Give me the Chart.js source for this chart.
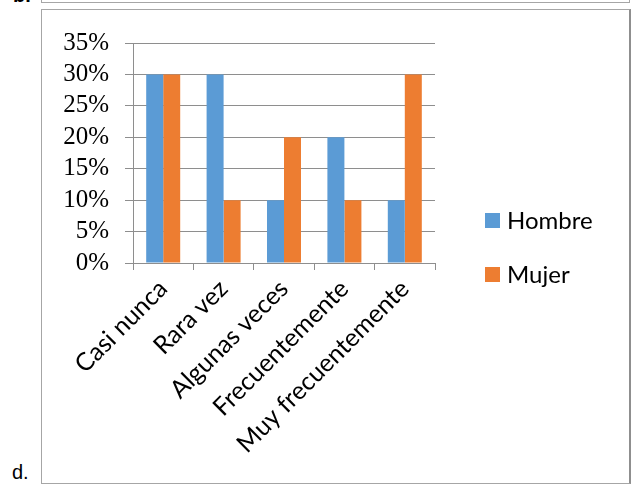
<!DOCTYPE html>
<html>
<head>
<meta charset="utf-8">
<script src="https://cdn.jsdelivr.net/npm/chart.js@4"></script>
<style>
  html,body{margin:0;padding:0;background:#fff;width:632px;height:485px;overflow:hidden;position:relative;}
  .topbox{position:absolute;left:41px;top:-20px;width:589px;height:23px;box-sizing:border-box;border:1px solid #a6a6a6;}
  .box{position:absolute;left:41px;top:9px;width:590px;height:475px;box-sizing:border-box;border:1px solid #a6a6a6;border-right:2px solid #8f8f8f;}
  .lbl{position:absolute;font-family:"Liberation Sans",Arial,sans-serif;font-size:20px;color:#000;}
  #wrap{position:absolute;left:42px;top:10px;width:586px;height:472px;}
</style>
</head>
<body>
<div class="topbox"></div>
<div class="lbl" style="left:13px;top:-16px;font-weight:bold;">b.</div>
<div class="box"></div>
<div class="lbl" style="left:12px;top:461px;">d.</div>
<div id="wrap"><canvas id="c" width="586" height="472"></canvas></div>
<script>
const categories = ["Casi nunca", "Rara vez", "Algunas veces", "Frecuentemente", "Muy frecuentemente"];
const hombre = [30, 30, 10, 20, 10];
const mujer = [30, 10, 20, 10, 30];
const seriesNames = ["Hombre", "Mujer"];
const yTicks = [0, 5, 10, 15, 20, 25, 30, 35];

const labelFont = {family: "Lato, 'Open Sans', sans-serif", size: 25};
const gridColor = "#8e8e8e";

const legendPlugin = {
  id: "sideLegend",
  afterDraw(chart) {
    const ctx = chart.ctx;
    ctx.save();
    ctx.font = "24px " + labelFont.family;
    ctx.textBaseline = "middle";
    ctx.textAlign = "left";
    chart.data.datasets.forEach((ds, i) => {
      const y = 203 + i * 54;
      ctx.fillStyle = ds.backgroundColor;
      ctx.fillRect(443, y, 15, 15);
      ctx.fillStyle = "#000";
      ctx.fillText(ds.label, 465, y + 8);
    });
    ctx.restore();
  }
};

new Chart(document.getElementById("c"), {
  type: "bar",
  data: {
    labels: categories,
    datasets: [
      {label: seriesNames[0], data: hombre, backgroundColor: "#5B9BD5"},
      {label: seriesNames[1], data: mujer, backgroundColor: "#ED7D31"}
    ]
  },
  options: {
    responsive: false,
    animation: false,
    events: [],
    layout: {padding: {top: 33, right: 193, left: 0, bottom: 0}},
    datasets: {bar: {categoryPercentage: 0.563, barPercentage: 1.0}},
    plugins: {legend: {display: false}, tooltip: {enabled: false}},
    scales: {
      x: {
        grid: {display: true, drawOnChartArea: false, drawTicks: true, tickLength: 7, color: gridColor, offset: true},
        border: {color: gridColor},
        ticks: {
          autoSkip: false, minRotation: 45, maxRotation: 45, padding: 4,
          color: "#000", font: labelFont
        },
        afterFit(scale) { scale.height = 219; }
      },
      y: {
        min: 0, max: 35,
        afterBuildTicks(scale) { scale.ticks = yTicks.map(v => ({value: v})); },
        grid: {color: gridColor, tickLength: 8},
        border: {color: gridColor},
        ticks: {
          autoSkip: false,
          padding: 16, color: "#000",
          font: {family: "'Liberation Serif', 'Times New Roman', serif", size: 25},
          callback: v => v + "%"
        },
        afterFit(scale) { scale.width = 91; }
      }
    }
  },
  plugins: [legendPlugin]
});
</script>
</body>
</html>
